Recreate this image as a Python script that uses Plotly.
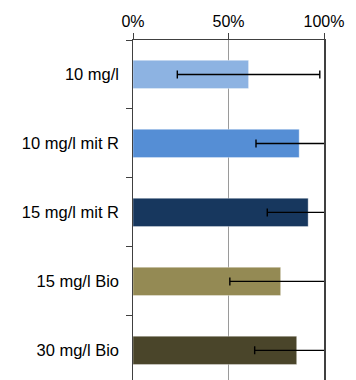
import plotly.graph_objects as go

categories = ["10 mg/l", "10 mg/l mit R", "15 mg/l mit R", "15 mg/l Bio", "30 mg/l Bio"]
values = [0.605, 0.87, 0.917, 0.773, 0.857]
errors = [0.373, 0.226, 0.214, 0.266, 0.22]
colors = ["#8DB3E2", "#558ED5", "#17375E", "#948A54", "#4A452A"]
tick_vals = [0, 0.5, 1.0]
tick_text = ["0%", "50%", "100%"]

fig = go.Figure(go.Bar(
    y=categories, x=values, orientation="h", width=0.41,
    marker=dict(color=colors, line=dict(color="rgba(255,255,255,0.35)", width=1)),
    error_x=dict(type="data", array=errors, visible=True, color="#000000",
                 thickness=1.4, width=4),
))

fig.update_layout(
    width=356, height=380,
    margin=dict(l=133, r=32, t=40, b=0, autoexpand=False),
    paper_bgcolor="white", plot_bgcolor="white",
    font=dict(family="Liberation Sans, Arial, sans-serif", size=16, color="#000000"),
    showlegend=False,
    bargap=0,
    xaxis=dict(side="top", range=[0, 1], tickvals=tick_vals, ticktext=tick_text,
               showgrid=True, gridcolor="#9a9a9a", gridwidth=1,
               showline=True, linecolor="#404040", linewidth=1,
               ticks="outside", ticklen=6, tickcolor="#404040", tickwidth=1,
               zeroline=False, fixedrange=True, automargin=False,
               tickfont=dict(size=16)),
    yaxis=dict(type="category", range=[4.43, -0.5], tickson="boundaries",
               showline=True, mirror=True, linecolor="#404040", linewidth=1.5,
               ticks="outside", ticklen=6, tickcolor="#404040", tickwidth=1,
               showgrid=False, ticksuffix="  ", fixedrange=True, automargin=False,
               tickfont=dict(size=16.5)),
)

fig.write_html("out.html", config={"displayModeBar": False, "staticPlot": True},
               post_script="document.body.style.margin='0';document.body.style.overflow='hidden';")
